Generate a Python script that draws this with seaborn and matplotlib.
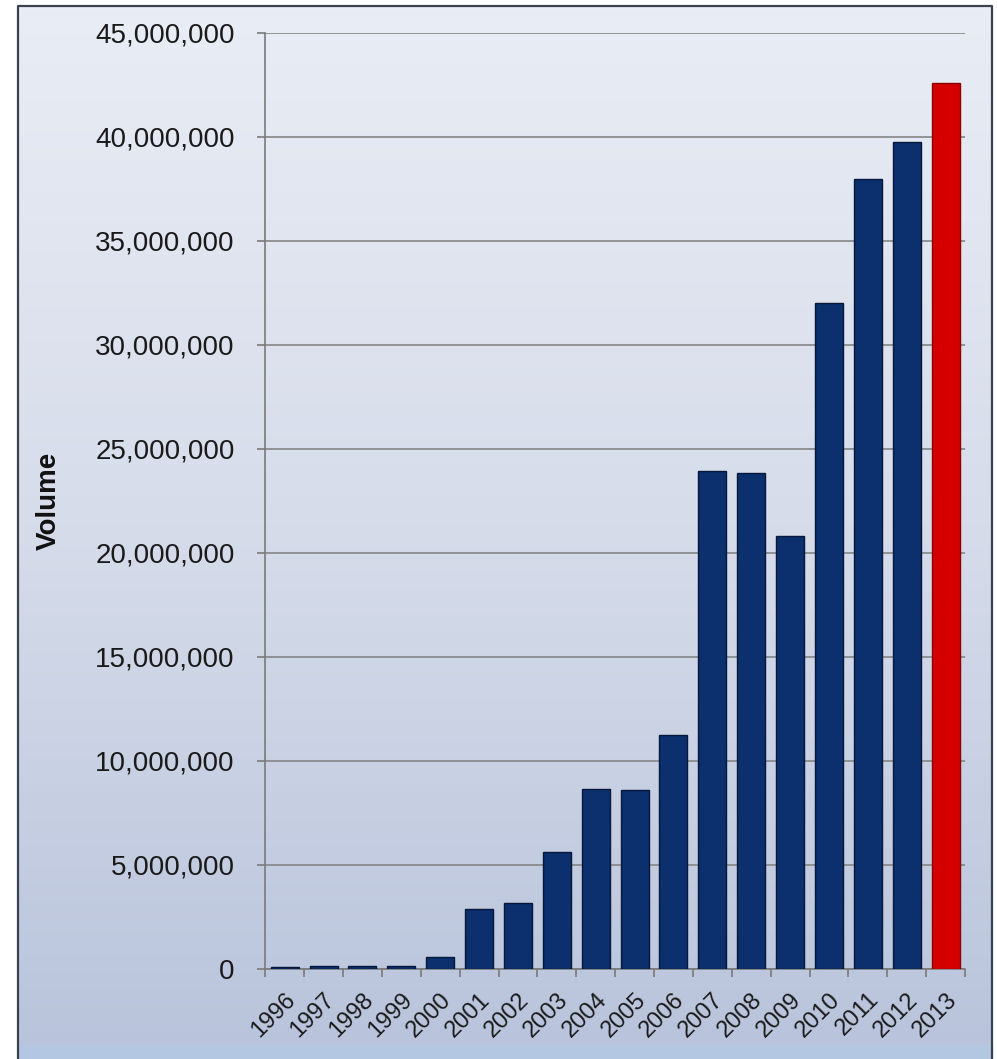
import numpy as np
import matplotlib
matplotlib.use("Agg")
import matplotlib.pyplot as plt
from matplotlib.ticker import FuncFormatter, MultipleLocator, FixedLocator
from matplotlib.colors import LinearSegmentedColormap
import seaborn as sns
import pandas as pd

years = ["1996", "1997", "1998", "1999", "2000", "2001", "2002", "2003", "2004",
         "2005", "2006", "2007", "2008", "2009", "2010", "2011", "2012", "2013"]
volumes = [80000, 160000, 160000, 160000, 560000, 2870000, 3160000, 5640000, 8670000,
           8590000, 11250000, 23960000, 23860000, 20830000, 32000000, 37980000, 39760000, 42600000]
bar_colors = ["#0c2f6e"] * 17 + ["#d40000"]

sns.set_theme(style="white")
plt.rcParams['font.family'] = ['Liberation Sans', 'DejaVu Sans']

fig = plt.figure(figsize=(9.97, 10.59), dpi=100)

# background gradient panel with frame
bg = fig.add_axes([0, 0, 1, 1], zorder=0)
bg.set_xlim(0, 997)
bg.set_ylim(1059, 0)
bg.axis("off")
grad = np.linspace(0, 1, 256).reshape(-1, 1)
cmap = LinearSegmentedColormap.from_list("bg", ["#e9edf5", "#d6dcea", "#b9c4dc"])
bg.imshow(grad, cmap=cmap, extent=[18, 992, 1045, 6], aspect="auto", zorder=0)
bg.add_patch(plt.Rectangle((18, 1045), 974, 20, color="#b3c6e2", zorder=1))
bg.plot([18, 18, 992, 992], [1065, 6, 6, 1065], color="#3a4250", lw=1.6, zorder=2)

ax = fig.add_axes([0.266, 0.085, 0.702, 0.884], zorder=1)
ax.set_facecolor("none")

df = pd.DataFrame({"year": years, "volume": volumes})
sns.barplot(data=df, x="year", y="volume", hue="year", palette=dict(zip(years, bar_colors)),
            legend=False, width=0.72, saturation=1, ax=ax, edgecolor="#05173a",
            linewidth=1.0, zorder=3)
for p, c in zip(ax.patches, bar_colors):
    if c == "#d40000":
        p.set_edgecolor("#8a0000")

ax.set_ylim(0, 45000000)
ax.set_xlim(-0.5, len(years) - 0.5)
ax.yaxis.set_major_locator(MultipleLocator(5000000))
ax.yaxis.set_major_formatter(FuncFormatter(lambda v, pos: f"{int(v):,}"))
ax.grid(axis="y", color="#858585", linewidth=1.2, zorder=0)
ax.set_axisbelow(True)

for s in ["top", "right"]:
    ax.spines[s].set_visible(False)
ax.spines["left"].set_color("#7a7a7a")
ax.spines["bottom"].set_color("#7a7a7a")
ax.spines["left"].set_linewidth(1.2)
ax.spines["bottom"].set_linewidth(1.2)

ax.tick_params(axis="y", which="major", left=True, length=6, width=1.2, color="#7a7a7a",
               pad=16, labelsize=20, labelcolor="#1a1a1a")
ax.set_xticks(range(len(years)))
ax.set_xticklabels(years)
ax.tick_params(axis="x", which="major", length=0, pad=14, labelsize=17, labelcolor="#1a1a1a")
for lab in ax.get_xticklabels():
    lab.set_rotation(45)
    lab.set_ha("right")
    lab.set_va("top")
    lab.set_rotation_mode("anchor")
ax.xaxis.set_minor_locator(FixedLocator(np.arange(-0.5, len(years), 1.0)))
ax.tick_params(axis="x", which="minor", bottom=True, length=6, width=1.2, color="#7a7a7a")

ax.set_xlabel("")
ax.set_ylabel("Volume", fontsize=20, fontweight="bold", color="#111111", labelpad=24)

fig.savefig("out.png", dpi=100)
